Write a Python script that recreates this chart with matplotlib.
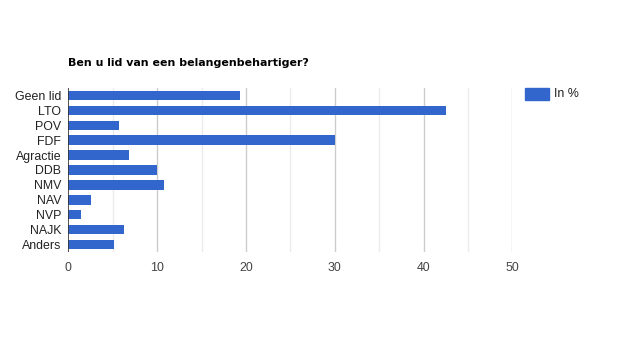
import matplotlib
matplotlib.use("Agg")
from matplotlib import pyplot as plt
from matplotlib.patches import Rectangle

plt.rcParams['font.family'] = ['Liberation Sans', 'DejaVu Sans']

categorieen = ["Geen lid", "LTO", "POV", "FDF", "Agractie", "DDB", "NMV", "NAV", "NVP", "NAJK", "Anders"]
procenten = [19.3, 42.5, 5.7, 30.0, 6.8, 10.0, 10.8, 2.6, 1.4, 6.3, 5.1]
xticks = [0, 10, 20, 30, 40, 50]
minor_xticks = [5, 15, 25, 35, 45]

fig = plt.figure(figsize=(6.25, 3.5), dpi=100)
ax = fig.add_axes([0.1093, 0.28, 0.7104, 0.4686])

posities = list(range(len(categorieen)))
ax.barh(posities, procenten, height=0.63, color="#3366cc", zorder=3)

ax.set_ylim(len(categorieen) - 0.5, -0.5)
ax.set_xlim(0, 50)
ax.set_yticks(posities)
ax.set_yticklabels(categorieen, fontsize=8.9, color="#222222")
ax.set_xticks(xticks)
ax.set_xticklabels([str(t) for t in xticks], fontsize=8.9, color="#444444")

# gridlines zoals google charts
for t in xticks[1:]:
    ax.axvline(t, color="#cccccc", lw=1, zorder=1)
for t in minor_xticks:
    ax.axvline(t, color="#ebebeb", lw=1, zorder=1)
ax.axvline(0, color="#333333", lw=1.2, zorder=4)

for s in ax.spines.values():
    s.set_visible(False)
ax.tick_params(length=0)
ax.tick_params(axis="y", pad=5)
ax.tick_params(axis="x", pad=7)

fig.text(68 / 625, 1 - 63 / 350, "Ben u lid van een belangenbehartiger?",
         fontsize=7.9, fontweight="bold", va="center", ha="left", color="#000000",
         family="DejaVu Sans")

# legende
fig.patches.append(Rectangle((525 / 625, 1 - 100 / 350), 24 / 625, 12 / 350,
                             transform=fig.transFigure, color="#3366cc"))
fig.text(554 / 625, 1 - 94 / 350, "In %", fontsize=8.9, va="center", ha="left", color="#222222")

fig.savefig("out.png", dpi=100)
